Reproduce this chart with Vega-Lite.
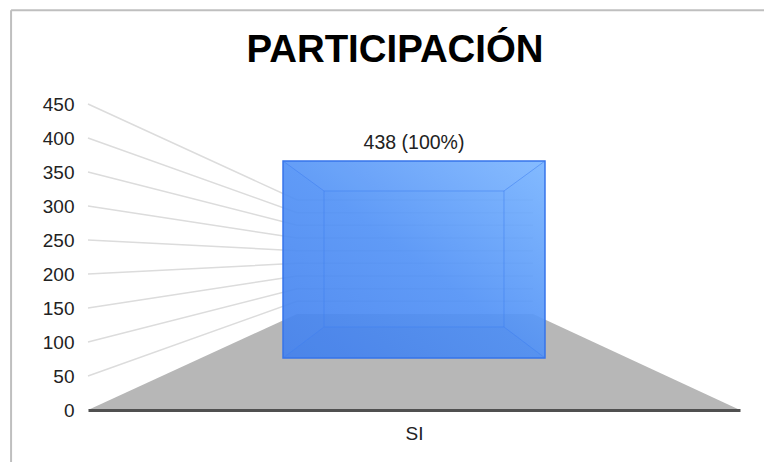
{
"$schema":"https://vega.github.io/schema/vega-lite/v6.json",
"width":652,"height":306,
"autosize":"none",
"padding":{"left":88,"top":104,"right":24,"bottom":52},
"background":"white",
"title":{"text":"PARTICIPACIÓN","font":"Liberation Sans","fontSize":38.4,"fontWeight":"bold","color":"#000000","anchor":"middle","dx":-19,"offset":-64},
"config":{"view":{"stroke":null}},
"encoding":{
 "x":{"field":"x","type":"quantitative","scale":{"domain":[0,1],"nice":false,"zero":false},
  "axis":{"title":null,"grid":false,"ticks":false,"values":[0.5],"labelExpr":"'SI'","labelFont":"Liberation Sans","labelFontSize":19,"labelColor":"#222222","labelPadding":14,"domainColor":"#505050","domainWidth":3,"zindex":1}},
 "y":{"field":"y","type":"quantitative","scale":{"domain":[0,450],"nice":false,"zero":false},
  "axis":{"title":null,"grid":false,"ticks":false,"domain":false,"values":[0,50,100,150,200,250,300,350,400,450],"labelFont":"Liberation Sans","labelFontSize":19,"labelColor":"#222222","labelPadding":14}}
},
"layer":[
 {"data":{"values":[
  {"part":"left","i":0,"x":-0.118,"y":-76.5},{"part":"left","i":1,"x":-0.118,"y":588},
  {"part":"top","i":0,"x":-0.118,"y":588},{"part":"top","i":1,"x":1.037,"y":588}]},
  "mark":{"type":"line","color":"#bfbfbf","strokeWidth":2,"clip":false},
  "encoding":{"detail":{"field":"part"},"order":{"field":"i"}}},
 {"data":{"values":[
  {"g":50,"i":0,"x":0,"y":50},{"g":50,"i":1,"x":0.3206,"y":159.8},{"g":50,"i":2,"x":0.6825,"y":159.8},
  {"g":100,"i":0,"x":0,"y":100},{"g":100,"i":1,"x":0.3206,"y":178.4},{"g":100,"i":2,"x":0.6825,"y":178.4},
  {"g":150,"i":0,"x":0,"y":150},{"g":150,"i":1,"x":0.3206,"y":197.1},{"g":150,"i":2,"x":0.6825,"y":197.1},
  {"g":200,"i":0,"x":0,"y":200},{"g":200,"i":1,"x":0.3206,"y":215.7},{"g":200,"i":2,"x":0.6825,"y":215.7},
  {"g":250,"i":0,"x":0,"y":250},{"g":250,"i":1,"x":0.3206,"y":234.3},{"g":250,"i":2,"x":0.6825,"y":234.3},
  {"g":300,"i":0,"x":0,"y":300},{"g":300,"i":1,"x":0.3206,"y":252.9},{"g":300,"i":2,"x":0.6825,"y":252.9},
  {"g":350,"i":0,"x":0,"y":350},{"g":350,"i":1,"x":0.3206,"y":271.6},{"g":350,"i":2,"x":0.6825,"y":271.6},
  {"g":400,"i":0,"x":0,"y":400},{"g":400,"i":1,"x":0.3206,"y":290.2},{"g":400,"i":2,"x":0.6825,"y":290.2},
  {"g":450,"i":0,"x":0,"y":450},{"g":450,"i":1,"x":0.3206,"y":308.8},{"g":450,"i":2,"x":0.6825,"y":308.8}]},
  "mark":{"type":"line","color":"#dcdcdc","strokeWidth":1.5},
  "encoding":{"detail":{"field":"g"},"order":{"field":"i"}}},
 {"data":{"values":[
  {"x":0,"y":0,"y0":0},{"x":0.3206,"y":141.2,"y0":0},{"x":0.6825,"y":141.2,"y0":0},{"x":1,"y":0,"y0":0}]},
  "mark":{"type":"area","color":"#b7b7b7","opacity":1},
  "encoding":{"y2":{"field":"y0"}}},
 {"data":{"values":[{"respuesta":"SI","x":0.2991,"x1":0.7009,"y":76.5,"y1":366.2}]},
  "mark":{"type":"rect","opacity":0.92,"color":{"gradient":"linear","x1":1,"y1":0,"x2":0,"y2":1,"stops":[{"offset":0,"color":"#78b4ff"},{"offset":0.5,"color":"#5292f6"},{"offset":1,"color":"#4482ee"}]}},
  "encoding":{"x2":{"field":"x1"},"y2":{"field":"y1"}}},
 {"data":{"values":[
  {"x":0.2991,"y":366.2,"y0":366.2},{"x":0.3620,"y":322.1,"y0":366.2},{"x":0.6380,"y":322.1,"y0":366.2},{"x":0.7009,"y":366.2,"y0":366.2}]},
  "mark":{"type":"area","color":"#ffffff","opacity":0.03},
  "encoding":{"y2":{"field":"y0"}}},
 {"data":{"values":[
  {"x":0.2991,"y":76.5,"y0":76.5},{"x":0.3620,"y":122.1,"y0":76.5},{"x":0.6380,"y":122.1,"y0":76.5},{"x":0.7009,"y":76.5,"y0":76.5}]},
  "mark":{"type":"area","color":"#1f5fd8","opacity":0.05},
  "encoding":{"y2":{"field":"y0"}}},
 {"data":{"values":[
  {"e":"inner","i":0,"x":0.3620,"y":322.1},{"e":"inner","i":1,"x":0.6380,"y":322.1},{"e":"inner","i":2,"x":0.6380,"y":122.1},{"e":"inner","i":3,"x":0.3620,"y":122.1},{"e":"inner","i":4,"x":0.3620,"y":322.1},
  {"e":"tl","i":0,"x":0.2991,"y":366.2},{"e":"tl","i":1,"x":0.3620,"y":322.1},
  {"e":"tr","i":0,"x":0.7009,"y":366.2},{"e":"tr","i":1,"x":0.6380,"y":322.1},
  {"e":"bl","i":0,"x":0.2991,"y":76.5},{"e":"bl","i":1,"x":0.3620,"y":122.1},
  {"e":"br","i":0,"x":0.7009,"y":76.5},{"e":"br","i":1,"x":0.6380,"y":122.1}]},
  "mark":{"type":"line","color":"#3f80f0","strokeWidth":1,"opacity":0.55},
  "encoding":{"detail":{"field":"e"},"order":{"field":"i"}}},
 {"data":{"values":[{"respuesta":"SI","x":0.2991,"x1":0.7009,"y":76.5,"y1":366.2}]},
  "mark":{"type":"rect","fillOpacity":0,"stroke":"#3674ea","strokeWidth":1.5},
  "encoding":{"x2":{"field":"x1"},"y2":{"field":"y1"}}},
 {"data":{"values":[{"respuesta":"SI","n":438,"etiqueta":"438 (100%)","x":0.5,"y":393}]},
  "mark":{"type":"text","font":"Liberation Sans","fontSize":19.5,"color":"#222222"},
  "encoding":{"text":{"field":"etiqueta"}}}
]
}
